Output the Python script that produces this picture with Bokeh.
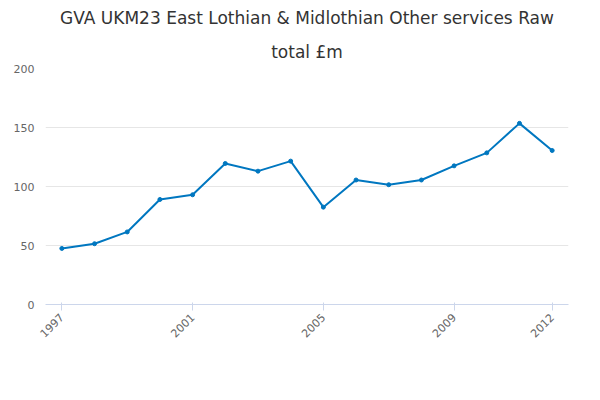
from bokeh.plotting import figure
from bokeh.models import Range1d, FixedTicker, Legend, LegendItem, Label, Title
from bokeh.embed import file_html
from bokeh.resources import INLINE
import math

years = [1997, 1998, 1999, 2000, 2001, 2002, 2003, 2004, 2005, 2006, 2007, 2008, 2009, 2010, 2011, 2012]
values = [47.5, 51.5, 61.5, 89, 93, 119.5, 113, 121.5, 82.5, 105.5, 101.5, 105.5, 117.5, 128.5, 153.5, 130.5]
x_ticks = [1997, 2001, 2005, 2009, 2012]
y_ticks = [0, 50, 100, 150, 200]
series_name = "GVA UKM23 East Lothian & Midlothian Other services Raw total £m"
color = "#0077c0"

p = figure(width=584, height=384, output_backend="svg", toolbar_location=None,
           x_range=Range1d(1996.5, 2012.5), y_range=Range1d(0, 200),
           min_border_left=45, min_border_right=16, min_border_top=5, min_border_bottom=80,
           title=None)
tkw = dict(align="center", text_font="DejaVu Sans", text_font_size="17px",
           text_font_style="normal", text_color="#333333")
p.add_layout(Title(text="total £m", standoff=14, **tkw), "above")
p.add_layout(Title(text="GVA UKM23 East Lothian & Midlothian Other services Raw", **tkw), "above")
p.outline_line_color = None
r = p.line(years, values, line_color=color, line_width=2)
c = p.scatter(years, values, size=4, color=color)

p.xaxis.ticker = FixedTicker(ticks=x_ticks)
p.yaxis.ticker = FixedTicker(ticks=y_ticks)
p.xaxis.major_label_orientation = math.pi / 4
p.xgrid.grid_line_color = None
p.ygrid.grid_line_color = "#e6e6e6"
p.yaxis.axis_line_color = None
p.yaxis.major_tick_line_color = None
p.yaxis.minor_tick_line_color = None
p.xaxis.minor_tick_line_color = None
p.xaxis.axis_line_color = "#ccd6eb"
p.xaxis.major_tick_line_color = "#ccd6eb"
for ax in (p.xaxis, p.yaxis):
    ax.major_label_text_font = "DejaVu Sans"
    ax.major_label_text_font_size = "11px"
    ax.major_label_text_color = "#666666"

p.add_layout(Label(x=-35, y=250, x_units="screen", y_units="screen", text="£m",
                   text_font="DejaVu Sans", text_font_size="11px", text_color="#666666"))

legend = Legend(items=[LegendItem(label=series_name, renderers=[r, c])], location=(-15, -72),
                orientation="horizontal", border_line_color=None, background_fill_alpha=0,
                label_text_font="DejaVu Sans", label_text_font_size="12px",
                label_text_font_style="bold", label_text_color="#333333",
                glyph_width=18, margin=0, padding=4)
p.add_layout(legend, "center")

p.add_layout(Label(x=495, y=-90, x_units="screen", y_units="screen", text="Source:",
                   text_font="DejaVu Sans", text_font_size="12px", text_color="#666666"))

open("out.html", "w").write(file_html(p, INLINE))
